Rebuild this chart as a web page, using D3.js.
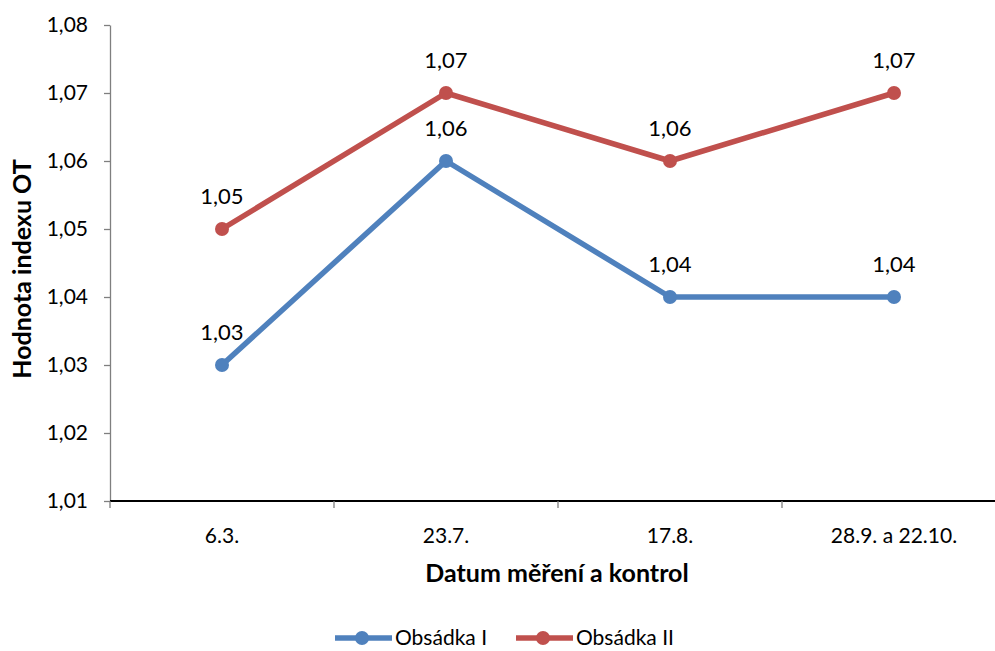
<!DOCTYPE html>
<html>
<head>
<meta charset="utf-8">
<script src="https://cdn.jsdelivr.net/npm/d3@7"></script>
<style>
  html, body { margin: 0; padding: 0; background: #fff; }
  svg { display: block; font-family: Lato, "Open Sans", sans-serif; }
</style>
</head>
<body>
<svg id="chart" width="995" height="651"></svg>
<script>
// Measurement dates and index values per crew
const categories = ["6.3.", "23.7.", "17.8.", "28.9. a 22.10."];
const obsadkaI = [1.03, 1.06, 1.04, 1.04];
const obsadkaII = [1.05, 1.07, 1.06, 1.07];
const yTicks = [1.01, 1.02, 1.03, 1.04, 1.05, 1.06, 1.07, 1.08];
const seriesNames = ["Obsádka I", "Obsádka II"];
const seriesColors = ["#4F81BD", "#C0504D"];

const svg = d3.select("#chart");
const fmt = v => v.toFixed(2).replace(".", ",");

const x = d3.scaleBand().domain(categories).range([110, 1006]).padding(0);
const y = d3.scaleLinear().domain([1.01, 1.08]).range([501, 25]);

// Y axis
const yAxis = svg.append("g")
  .attr("transform", "translate(110,0)")
  .call(d3.axisLeft(y).tickValues(yTicks).tickFormat(fmt).tickSize(6).tickSizeOuter(0));
yAxis.select(".domain").attr("stroke", "#7f7f7f").attr("stroke-width", 1.3);
yAxis.selectAll(".tick line").attr("stroke", "#7f7f7f").attr("stroke-width", 1.3);
yAxis.selectAll(".tick text").attr("font-size", 21).attr("fill", "#000")
  .attr("font-family", "Lato, sans-serif").attr("x", -22);

// X axis with ticks between categories
const xAxis = svg.append("g").attr("transform", "translate(0,501)");
xAxis.append("line").attr("x1", 110).attr("x2", 1006).attr("y1", 0).attr("y2", 0)
  .attr("stroke", "#000").attr("stroke-width", 2.2);
const bounds = categories.map(c => x(c)).concat([x(categories[categories.length - 1]) + x.bandwidth()]);
xAxis.selectAll("line.tk").data(bounds).join("line").attr("class", "tk")
  .attr("x1", d => d).attr("x2", d => d).attr("y1", 0).attr("y2", 7)
  .attr("stroke", "#7f7f7f").attr("stroke-width", 1.3);
xAxis.selectAll("text").data(categories).join("text")
  .attr("x", d => x(d) + x.bandwidth() / 2).attr("y", 42)
  .attr("text-anchor", "middle").attr("font-size", 21).attr("font-family", "Lato, sans-serif")
  .text(d => d);

// Axis titles
svg.append("text").attr("x", 557).attr("y", 582).attr("text-anchor", "middle")
  .attr("font-size", 25).attr("font-weight", "bold").attr("font-family", "Lato, sans-serif")
  .text("Datum měření a kontrol");
svg.append("text").attr("transform", "translate(31,269) rotate(-90)").attr("text-anchor", "middle")
  .attr("font-size", 25).attr("font-weight", "bold").attr("font-family", "Lato, sans-serif")
  .text("Hodnota indexu OT");

// Series lines, markers and value labels
const allSeries = [obsadkaI, obsadkaII];
const line = d3.line().x((d, i) => x(categories[i]) + x.bandwidth() / 2).y(d => y(d));
allSeries.forEach((vals, s) => {
  const g = svg.append("g");
  g.append("path").datum(vals).attr("d", line).attr("fill", "none")
    .attr("stroke", seriesColors[s]).attr("stroke-width", 5.5).attr("stroke-linejoin", "round");
  g.selectAll("circle").data(vals).join("circle")
    .attr("cx", (d, i) => x(categories[i]) + x.bandwidth() / 2).attr("cy", d => y(d))
    .attr("r", 7).attr("fill", seriesColors[s]);
});
allSeries.forEach((vals) => {
  svg.append("g").selectAll("text").data(vals).join("text")
    .attr("x", (d, i) => x(categories[i]) + x.bandwidth() / 2).attr("y", d => y(d) - 25)
    .attr("text-anchor", "middle").attr("font-size", 22).attr("font-family", "Lato, sans-serif")
    .text(fmt);
});

// Legend
const legend = svg.append("g").attr("transform", "translate(0,638)");
const legendX = [335, 516];
seriesNames.forEach((name, s) => {
  const lg = legend.append("g").attr("transform", `translate(${legendX[s]},0)`);
  lg.append("line").attr("x1", 0).attr("x2", 57).attr("y1", 0).attr("y2", 0)
    .attr("stroke", seriesColors[s]).attr("stroke-width", 5.5);
  lg.append("circle").attr("cx", 27).attr("cy", 0).attr("r", 7).attr("fill", seriesColors[s]);
  lg.append("text").attr("x", 60).attr("y", 7).attr("font-size", 21)
    .attr("font-family", "Lato, sans-serif").text(name);
});
</script>
</body>
</html>
